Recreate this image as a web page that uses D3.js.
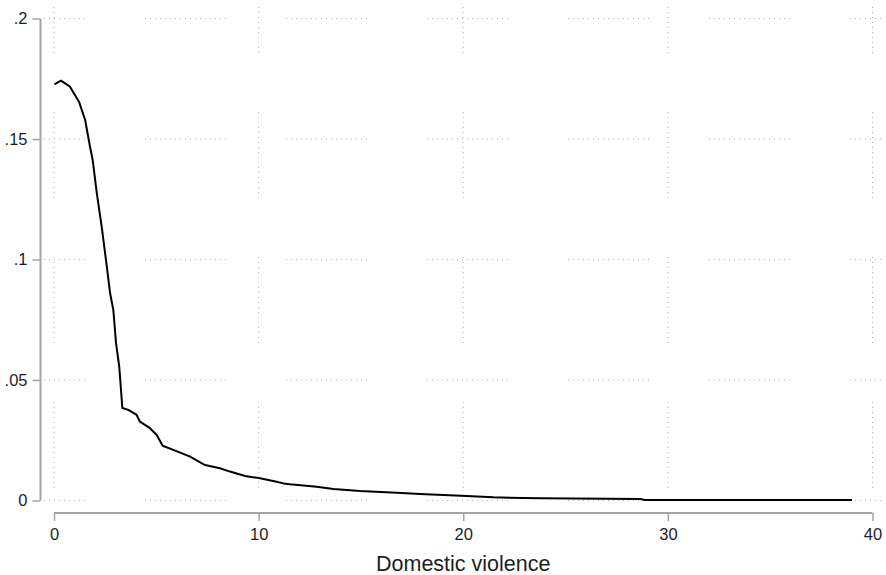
<!DOCTYPE html>
<html>
<head>
<meta charset="utf-8">
<script src="https://cdn.jsdelivr.net/npm/d3@7"></script>
<style>
  body { margin: 0; background: #fff; }
  svg { display: block; font-family: "Liberation Sans", Arial, sans-serif; }
</style>
</head>
<body>
<div id="chart"></div>
<script>
// Kernel density of domestic violence
const violence = [0.02, 0.34, 0.78, 1.22, 1.52, 1.76, 1.89, 2.09, 2.33, 2.54, 2.74, 2.9, 3.03, 3.19, 3.34,
  3.63, 4.04, 4.2, 4.69, 5.02, 5.31, 5.83, 6.65, 7.38, 8.11, 8.6, 9.34, 10.07, 10.88, 11.21, 11.53,
  12.84, 13.65, 14.96, 16.75, 17.89, 20.17, 21.47, 23.75, 28.64, 28.9, 39.0];
const density = [0.1727, 0.1742, 0.1717, 0.1655, 0.158, 0.1468, 0.1413, 0.1276, 0.1136, 0.0998, 0.0861, 0.079, 0.0654, 0.0555, 0.0384,
  0.0376, 0.0355, 0.0327, 0.03, 0.0272, 0.0227, 0.021, 0.0182, 0.0147, 0.0134, 0.012, 0.0102, 0.0092, 0.0078, 0.0071, 0.0067,
  0.0057, 0.0048, 0.0039, 0.0032, 0.0027, 0.0019, 0.0013, 0.0009, 0.0006, 0.0002, 0.0002];
const xTicks = [0, 10, 20, 30, 40];
const yTicks = [0, 0.05, 0.1, 0.15, 0.2];
const yTickLabels = ["0", ".05", ".1", ".15", ".2"];
const xTitle = "Domestic violence";

const width = 886, height = 575;
const plot = { left: 41, right: 884, top: 5, bottom: 511 };

const svg = d3.select("#chart").append("svg")
  .attr("width", width).attr("height", height);

const x = d3.scaleLinear().domain([0, 40]).range([54, 872.5]);
const y = d3.scaleLinear().domain([0, 0.2]).range([500.5, 18.5]);

// dotted grid with broken segments, like the original export
function dashPattern(dots, period) {
  const parts = [];
  for (let i = 0; i < dots - 1; i++) parts.push(1, 4);
  parts.push(1, period - (dots - 1) * 5 - 1);
  return parts.join(" ");
}

svg.append("g").selectAll("line")
  .data(yTicks).join("line")
  .attr("x1", plot.left).attr("x2", plot.right)
  .attr("y1", d => y(d)).attr("y2", d => y(d))
  .attr("stroke", "#b4b4b4")
  .attr("stroke-dasharray", dashPattern(17, 141))
  .attr("stroke-dashoffset", plot.left - 4);

svg.append("g").selectAll("line")
  .data(xTicks).join("line")
  .attr("x1", d => x(d)).attr("x2", d => x(d))
  .attr("y1", plot.top).attr("y2", plot.bottom)
  .attr("stroke", "#b4b4b4")
  .attr("stroke-dasharray", dashPattern(18, 145))
  .attr("stroke-dashoffset", plot.top + 33);

// line
const pts = violence.map((v, i) => [v, density[i]]);
svg.append("path")
  .datum(pts)
  .attr("fill", "none")
  .attr("stroke", "#000")
  .attr("stroke-width", 2)
  .attr("stroke-linejoin", "round")
  .attr("d", d3.line().x(d => x(d[0])).y(d => y(d[1])));

// y axis
const yAxis = svg.append("g")
  .attr("transform", "translate(40.5,0)")
  .call(d3.axisLeft(y).tickValues(yTicks).tickSize(8).tickPadding(5)
    .tickFormat((d, i) => yTickLabels[i]));
yAxis.select(".domain").attr("d", `M0,${y(0.2)}V${y(0)}`);

// x axis
const xAxis = svg.append("g")
  .attr("transform", "translate(0,513)")
  .call(d3.axisBottom(x).tickValues(xTicks).tickSize(8).tickPadding(7));
xAxis.select(".domain").attr("d", `M${x(0)},0H${x(40)}`);

svg.selectAll(".domain").attr("stroke", "#a4a4a4").attr("stroke-width", 2);
svg.selectAll(".tick line").attr("stroke", "#a4a4a4").attr("stroke-width", 1.5);
svg.selectAll(".tick text").attr("fill", "#1e1e1e").style("font-size", "16.5px");

// x title
svg.append("text")
  .attr("x", (x(0) + x(40)) / 2)
  .attr("y", 571)
  .attr("text-anchor", "middle")
  .attr("fill", "#1e1e1e")
  .style("font-size", "21.5px")
  .text(xTitle);
</script>
</body>
</html>
